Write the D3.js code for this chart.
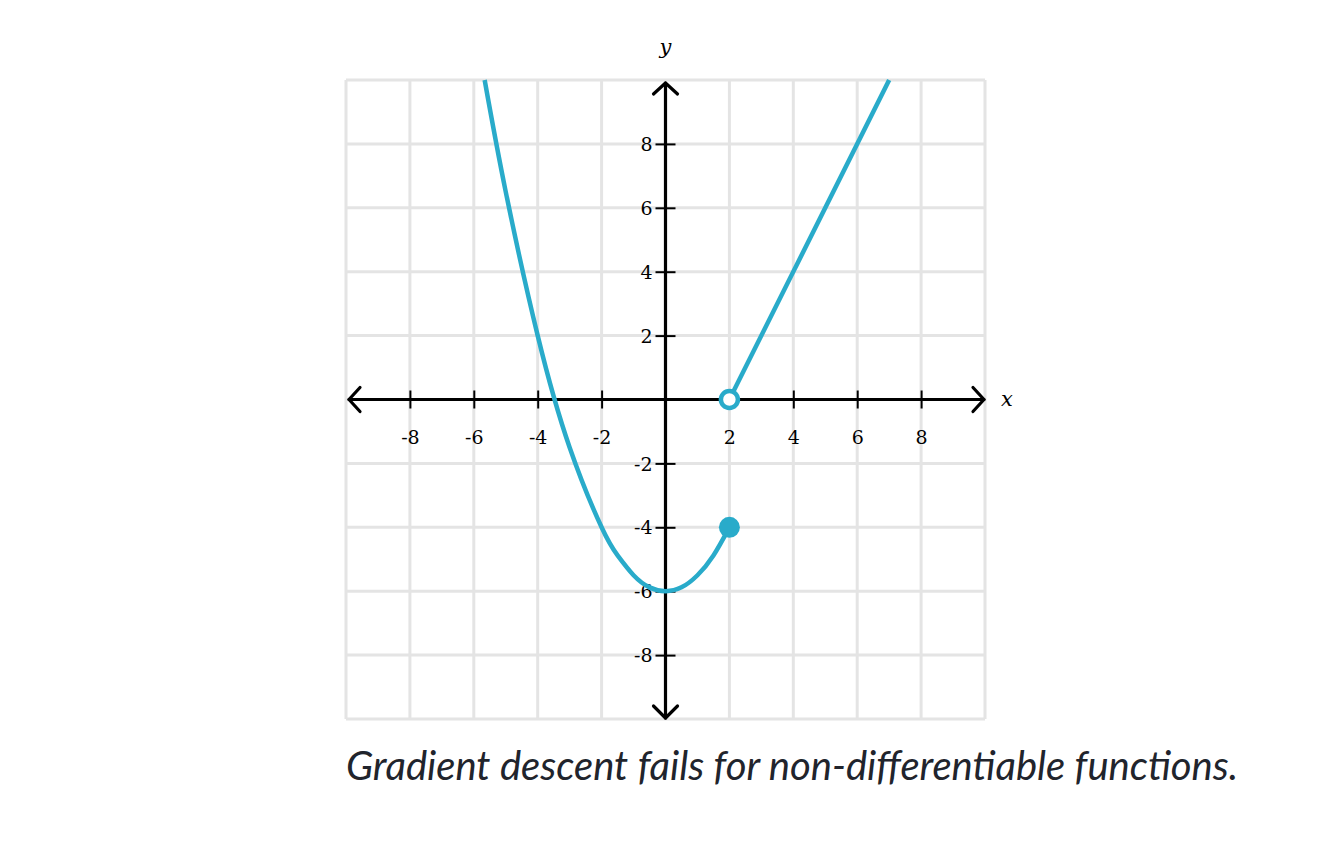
<!DOCTYPE html>
<html>
<head>
<meta charset="utf-8">
<script src="https://cdn.jsdelivr.net/npm/d3@7"></script>
<style>
  body { margin: 0; background: #fff; }
  svg { display: block; }
</style>
</head>
<body>
<svg id="chart" width="1332" height="850"></svg>
<script>
// values
var gridValues = [-10, -8, -6, -4, -2, 0, 2, 4, 6, 8, 10];
var tickValues = [-8, -6, -4, -2, 2, 4, 6, 8];

// left piece (parabola), read at a few x positions
var curveX = [-5.66, -5, -4, -3, -2, -1.5, -1, -0.5, 0, 0.5, 1, 1.5, 2];
var curveY = [10, 6.5, 2, -1.5, -4, -4.88, -5.5, -5.88, -6, -5.88, -5.5, -4.88, -4];

// right piece (straight line)
var lineX = [2, 7];
var lineY = [0, 10];

// endpoints
var openPoint = [2, 0];
var closedPoint = [2, -4];

var blue = "#29abca";
var svg = d3.select("#chart");

var x = d3.scaleLinear().domain([-10, 10]).range([346, 985]);
var y = d3.scaleLinear().domain([-10, 10]).range([719, 80]);

// grid
var grid = svg.append("g").attr("stroke", "#e4e4e4").attr("stroke-width", 3);
grid.selectAll(".gv").data(gridValues).enter().append("line")
    .attr("x1", d => x(d)).attr("x2", d => x(d))
    .attr("y1", y(10)).attr("y2", y(-10));
grid.selectAll(".gh").data(gridValues).enter().append("line")
    .attr("y1", d => y(d)).attr("y2", d => y(d))
    .attr("x1", x(-10)).attr("x2", x(10));

var fmt = d => String(d);

// x axis
var xAxis = svg.append("g")
    .attr("transform", "translate(0," + y(0) + ")")
    .call(d3.axisBottom(x).tickValues(tickValues).tickFormat(fmt));
xAxis.select(".domain").remove();
xAxis.selectAll(".tick line").attr("y1", -9).attr("y2", 9)
    .attr("stroke", "#000").attr("stroke-width", 2);
xAxis.selectAll(".tick text").attr("y", 38).attr("dy", "0.35em")
    .attr("font-family", "DejaVu Serif, serif").attr("font-size", 19)
    .attr("fill", "#000");

// y axis
var yAxis = svg.append("g")
    .attr("transform", "translate(" + x(0) + ",0)")
    .call(d3.axisLeft(y).tickValues(tickValues).tickFormat(fmt));
yAxis.select(".domain").remove();
yAxis.selectAll(".tick line").attr("x1", -10).attr("x2", 10)
    .attr("stroke", "#000").attr("stroke-width", 2);
yAxis.selectAll(".tick text").attr("x", -13).attr("dy", "0.35em")
    .attr("font-family", "DejaVu Serif, serif").attr("font-size", 19)
    .attr("fill", "#000");

// axis lines with arrow heads
var ax = svg.append("g").attr("stroke", "#000").attr("stroke-width", 3.2)
    .attr("fill", "none").attr("stroke-linecap", "round").attr("stroke-linejoin", "round");
ax.append("line").attr("x1", x(-10) + 3).attr("x2", x(10) - 1).attr("y1", y(0)).attr("y2", y(0));
ax.append("line").attr("y1", y(10) + 3).attr("y2", y(-10) - 1).attr("x1", x(0)).attr("x2", x(0));
var a = 12;
ax.append("path").attr("d", "M" + (x(10) - a) + "," + (y(0) - a) + "L" + (x(10) - 1) + "," + y(0) + "L" + (x(10) - a) + "," + (y(0) + a));
ax.append("path").attr("d", "M" + (x(-10) + a + 2) + "," + (y(0) - a) + "L" + (x(-10) + 3) + "," + y(0) + "L" + (x(-10) + a + 2) + "," + (y(0) + a));
ax.append("path").attr("d", "M" + (x(0) - a) + "," + (y(10) + a + 2) + "L" + x(0) + "," + (y(10) + 3) + "L" + (x(0) + a) + "," + (y(10) + a + 2));
ax.append("path").attr("d", "M" + (x(0) - a) + "," + (y(-10) - a - 1) + "L" + x(0) + "," + (y(-10) - 1) + "L" + (x(0) + a) + "," + (y(-10) - a - 1));

// axis names
svg.append("text").attr("x", x(10) + 22).attr("y", y(0)).attr("dy", "0.3em")
    .attr("text-anchor", "middle").attr("font-family", "DejaVu Serif, serif")
    .attr("font-style", "italic").attr("font-size", 21).text("x");
svg.append("text").attr("x", x(0)).attr("y", 54)
    .attr("text-anchor", "middle").attr("font-family", "DejaVu Serif, serif")
    .attr("font-style", "italic").attr("font-size", 21).text("y");

// function pieces
var curvePts = curveX.map((d, i) => [d, curveY[i]]);
var linePts = lineX.map((d, i) => [d, lineY[i]]);

svg.append("path").datum(curvePts)
    .attr("d", d3.line().x(d => x(d[0])).y(d => y(d[1])).curve(d3.curveNatural))
    .attr("fill", "none").attr("stroke", blue).attr("stroke-width", 4.5);
svg.append("path").datum(linePts)
    .attr("d", d3.line().x(d => x(d[0])).y(d => y(d[1])))
    .attr("fill", "none").attr("stroke", blue).attr("stroke-width", 4.5);

svg.append("circle").attr("cx", x(closedPoint[0])).attr("cy", y(closedPoint[1]))
    .attr("r", 10.5).attr("fill", blue);
svg.append("circle").attr("cx", x(openPoint[0])).attr("cy", y(openPoint[1]))
    .attr("r", 8.5).attr("fill", "#fff").attr("stroke", blue).attr("stroke-width", 4.5);

// caption
svg.append("text").attr("x", 346).attr("y", 780)
    .attr("font-family", "Lato, sans-serif").attr("font-style", "italic")
    .attr("font-size", 40).attr("fill", "#21242c")
    .text("Gradient descent fails for non-differentiable functions.");
</script>
</body>
</html>
